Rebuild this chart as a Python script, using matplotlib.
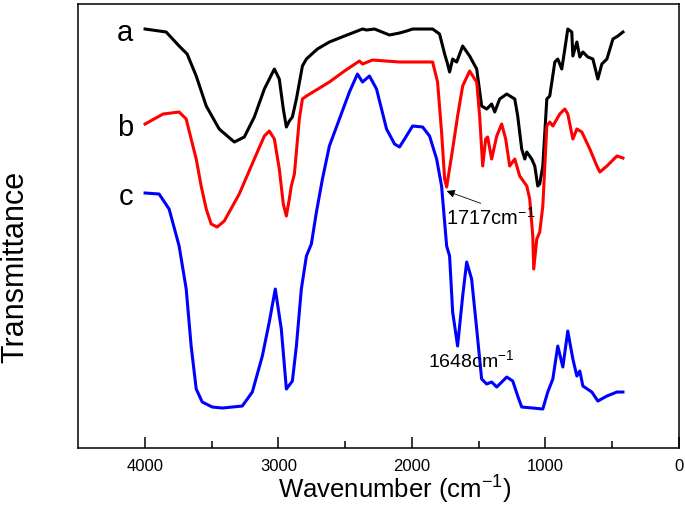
import matplotlib.pyplot as plt

plt.rcParams['font.family'] = ['Liberation Sans', 'DejaVu Sans']
plt.rcParams['mathtext.fontset'] = 'custom'
plt.rcParams['mathtext.rm'] = 'Liberation Sans'
plt.rcParams['mathtext.it'] = 'Liberation Sans'

# Curva a (negra)
wn_a = [3998, 3840, 3743, 3683, 3615, 3540, 3443, 3330, 3255, 3180, 3105, 3030, 2993, 2963,
        2940, 2918, 2895, 2865, 2820, 2790, 2708, 2618, 2505, 2370, 2340, 2280, 2168, 2093,
        2040, 1995, 1845, 1793, 1755, 1733, 1718, 1695, 1665, 1620, 1568, 1515, 1478, 1440,
        1403, 1380, 1343, 1290, 1230, 1208, 1178, 1155, 1140, 1103, 1080, 1058, 1043, 1020,
        990, 968, 930, 908, 878, 855, 833, 803, 795, 765, 743, 720, 683, 645, 608, 578, 540,
        495, 458, 420]
t_a = [435, 432, 418, 410, 388, 358, 335, 322, 327, 347, 375, 395, 385, 355,
       337, 343, 347, 365, 398, 405, 415, 422, 428, 435, 434, 435, 429, 431,
       433, 435, 435, 430, 410, 400, 392, 405, 402, 418, 408, 395, 358, 355,
       360, 352, 365, 370, 365, 348, 315, 305, 312, 305, 298, 278, 280, 298,
       365, 368, 402, 405, 395, 415, 435, 432, 408, 422, 407, 412, 407, 405, 385, 400, 405,
       425, 428, 432]

# Curva b (roja)
wn_b = [3998, 3863, 3743, 3690, 3653, 3615, 3578, 3540, 3503, 3458, 3405, 3293, 3180, 3105,
        3068, 3030, 2993, 2963, 2940, 2918, 2903, 2880, 2843, 2820, 2790, 2618, 2505, 2393,
        2370, 2295, 2093, 1845, 1808, 1778, 1755, 1740, 1695, 1658, 1620, 1568, 1515, 1493,
        1470, 1448, 1433, 1403, 1365, 1328, 1298, 1268, 1230, 1193, 1140, 1118, 1095, 1088,
        1065, 1043, 1020, 990, 968, 945, 893, 855, 833, 795, 765, 728, 668, 615, 593, 540,
        465, 420]
t_b = [340, 350, 352, 345, 325, 305, 278, 255, 240, 237, 243, 270, 305, 328,
       333, 325, 295, 260, 248, 265, 278, 290, 345, 365, 368, 382, 393, 403,
       400, 404, 402, 402, 382, 332, 285, 277, 315, 348, 378, 393, 382, 348,
       298, 325, 327, 305, 328, 340, 325, 298, 305, 288, 278, 265, 228, 195,
       225, 232, 258, 338, 342, 338, 350, 355, 350, 325, 335, 332, 315, 298, 292, 298,
       308, 306]

# Curva c (azul)
wn_c = [3998, 3893, 3818, 3743, 3690, 3653, 3615, 3570, 3495, 3420, 3270, 3195, 3120, 3068,
        3023, 2978, 2940, 2895, 2865, 2828, 2790, 2753, 2715, 2670, 2618, 2543, 2468, 2408,
        2370, 2318, 2265, 2190, 2130, 2093, 2055, 1995, 1920, 1868, 1815, 1778, 1740, 1718,
        1695, 1658, 1620, 1590, 1553, 1515, 1478, 1440, 1403, 1365, 1290, 1245, 1208, 1178,
        1095, 1020, 983, 945, 908, 870, 833, 795, 765, 743, 720, 653, 608, 540, 465, 420]
t_c = [271, 270, 255, 218, 175, 118, 75, 62, 57, 56, 58, 72, 108, 142,
       175, 135, 75, 83, 118, 175, 208, 220, 252, 285, 318, 345, 372, 390,
       382, 388, 375, 335, 320, 317, 325, 338, 337, 328, 305, 278, 218, 208,
       152, 118, 168, 202, 185, 135, 85, 80, 82, 77, 87, 83, 68, 57,
       56, 55, 72, 85, 118, 97, 133, 105, 88, 93, 78, 72, 63, 68, 72, 72]

xticks = [4000, 3000, 2000, 1000, 0]

fig = plt.figure(figsize=(6.85, 5.06), dpi=100)
ax = fig.add_axes([0.1139, 0.1126, 0.8774, 0.8775])

ax.plot(wn_a, t_a, color='black', lw=2.2, solid_joinstyle='round')
ax.plot(wn_b, t_b, color='#ff0000', lw=2.2, solid_joinstyle='round')
ax.plot(wn_c, t_c, color='#0000ff', lw=2.2, solid_joinstyle='round')

# Etiquetas de las curvas
for lab, y0 in [('a', t_a[0]), ('b', t_b[0]), ('c', t_c[0])]:
    ax.text(4085, y0 - 11, lab, fontsize=21, ha='right', va='baseline')

# Anotaciones
ax.annotate('1717cm$^{-1}$', xy=(1740, 273), xytext=(1748, 240), fontsize=14.5,
            ha='left', va='baseline',
            arrowprops=dict(arrowstyle='-|>', color='black', lw=0.6,
                            mutation_scale=12, shrinkA=0, shrinkB=0,
                            relpos=(0.48, 1.0)))
ax.text(1880, 98, '1648cm$^{-1}$', fontsize=14, ha='left', va='baseline')

ax.set_xlim(4500, 0)
ax.set_ylim(16, 460)
ax.set_xticks(xticks)
ax.set_xticks([3500, 2500, 1500, 500], minor=True)
ax.set_yticks([])
ax.tick_params(axis='x', which='major', direction='in', length=8, width=1.1,
               labelsize=12, pad=7)
ax.tick_params(axis='x', which='minor', direction='in', length=5, width=1.1)
for s in ax.spines.values():
    s.set_linewidth(1.1)

ax.set_xlabel('Wavenumber (cm$^{-1}$)', fontsize=18.5)
ax.xaxis.set_label_coords(0.527, -0.055)
ax.set_ylabel('Transmittance', fontsize=22)
ax.yaxis.set_label_coords(-0.08, 0.41)

fig.savefig('out.png', dpi=100)
